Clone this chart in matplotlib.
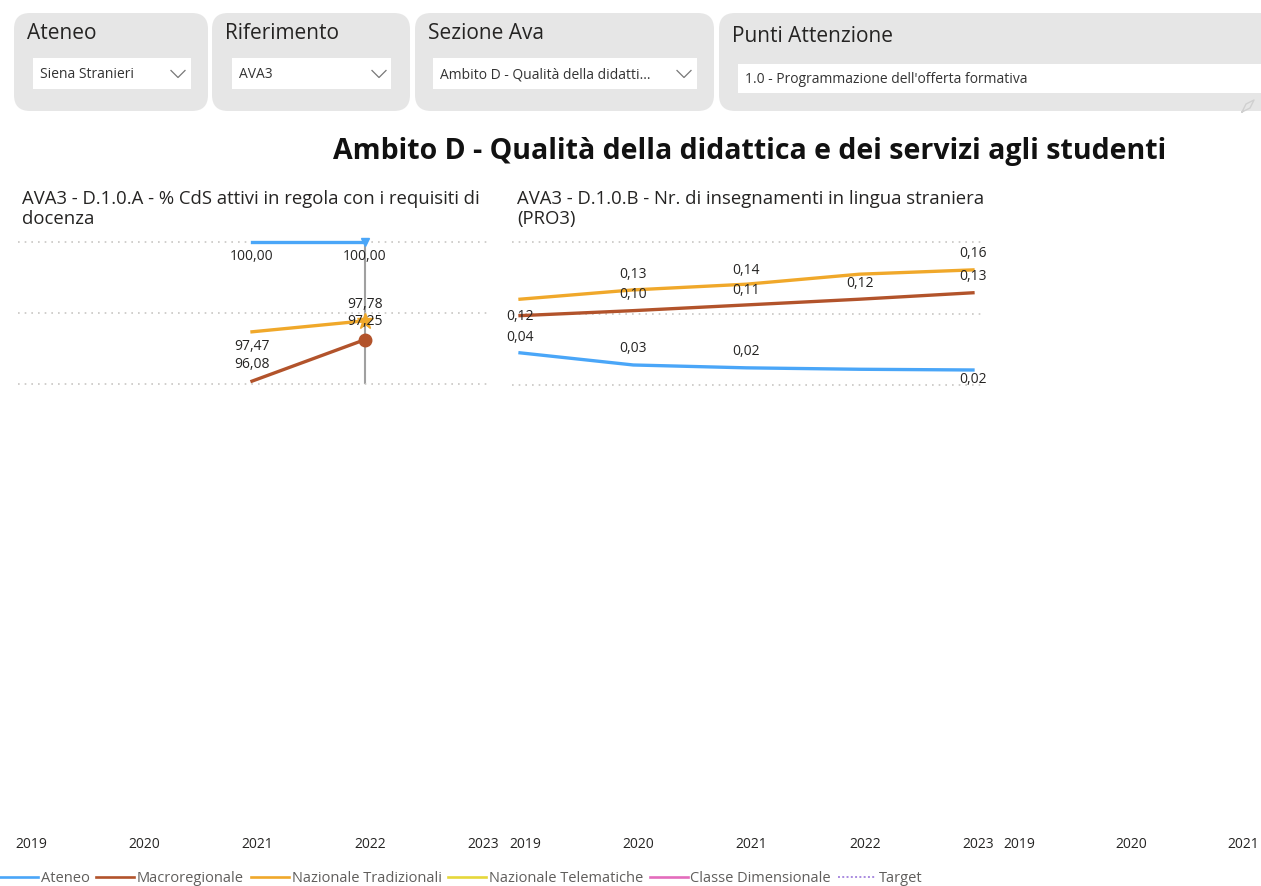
import matplotlib
matplotlib.use("Agg")
import matplotlib.pyplot as plt
from matplotlib.patches import FancyBboxPatch, Rectangle
from matplotlib.lines import Line2D
from matplotlib.transforms import ScaledTranslation

# ---------------- data ----------------
years = [2019, 2020, 2021, 2022, 2023]
c3_visible_years = [2019, 2020, 2021]
series_names = ["Ateneo", "Macroregionale", "Nazionale Tradizionali",
                "Nazionale Telematiche", "Classe Dimensionale", "Target"]
series_colors = ["#4AA6F8", "#B2532B", "#F0A82A", "#E6D83A", "#E46CBC", "#A98AE0"]

# Chart 1: % CdS attivi in regola con i requisiti di docenza (only 2021-2022)
c1_years = [2021, 2022]
c1_ateneo = [100.00, 100.00]
c1_macro = [96.08, 97.25]
c1_naztrad = [97.47, 97.78]

# Chart 2: Nr. di insegnamenti in lingua straniera (PRO3)
c2_ateneo = [0.045, 0.028, 0.024, 0.022, 0.021]
c2_macro = [0.097, 0.104, 0.112, 0.120, 0.129]
c2_naztrad = [0.120, 0.133, 0.141, 0.155, 0.161]

slicer_titles = ["Ateneo", "Riferimento", "Sezione Ava", "Punti Attenzione"]
slicer_values = ["Siena Stranieri", "AVA3", "Ambito D - Qualità della didatti...",
                 "1.0 - Programmazione dell'offerta formativa"]
main_title = "Ambito D - Qualità della didattica e dei servizi agli studenti"
c1_title = "AVA3 - D.1.0.A - % CdS attivi in regola con i requisiti di\ndocenza"
c2_title = "AVA3 - D.1.0.B - Nr. di insegnamenti in lingua straniera\n(PRO3)"

# ---------------- style / layout ----------------
W, H = 1261, 886
FONT = "Open Sans"
TXT = "#252423"
plt.rcParams["font.family"] = [FONT, "DejaVu Sans"]

fig = plt.figure(figsize=(W / 100, H / 100), dpi=100)
fig.patch.set_facecolor("white")

# overlay for slicers / titles
ov = fig.add_axes([0, 0, 1, 1])
ov.set_xlim(0, W)
ov.set_ylim(H, 0)
ov.axis("off")

boxes = [(14, 208), (212, 410), (415, 714), (719, 1300)]
drops = [(33, 191, 58, 89), (232, 391, 58, 89), (433, 697, 58, 89), (738, 1275, 64, 93)]
title_pos = [(27, 33), (225, 33), (428, 33), (732, 36)]
chev = [178, 379, 684, None]
for i, (x0, x1) in enumerate(boxes):
    ov.add_patch(FancyBboxPatch((x0, 13), x1 - x0, 98,
                                boxstyle="round,pad=0,rounding_size=16",
                                fc="#E6E6E6", ec="none"))
    dx0, dx1, dy0, dy1 = drops[i]
    ov.add_patch(Rectangle((dx0, dy0), dx1 - dx0, dy1 - dy0, fc="white", ec="none"))
    tx, ty = title_pos[i]
    ov.text(tx, ty, slicer_titles[i], fontsize=15, color=TXT, va="center", ha="left")
    ov.text(dx0 + 7, (dy0 + dy1) / 2 + 1, slicer_values[i], fontsize=10, color="#333333",
            va="center", ha="left")
    if chev[i] is not None:
        cx = chev[i]
        cy = (dy0 + dy1) / 2
        ov.plot([cx - 7, cx, cx + 7], [cy - 3, cy + 4, cy - 3], color="#777777", lw=0.9)

# pin icon hint
ov.plot([1242, 1246, 1254, 1250, 1242], [112, 104, 100, 108, 112], color="#D0D0D0", lw=1)

ov.text(750, 151, main_title, fontsize=20.5, fontweight="bold", color="#111111",
        ha="center", va="center")
ov.text(22, 209, c1_title, fontsize=13.3, color=TXT, ha="left", va="center",
        linespacing=1.2)
ov.text(517, 209, c2_title, fontsize=13.3, color=TXT, ha="left", va="center",
        linespacing=1.2)


def add_px_axes(x0, y0, x1, y1):
    return fig.add_axes([x0 / W, 1 - y1 / H, (x1 - x0) / W, (y1 - y0) / H])


AX_TOP, AX_BOT = 236, 833
GRID = "#C8C6C4"


def style_axes(ax, gridvals, ylim, ticks, show_grid=True):
    ax.set_facecolor("none")
    for s in ax.spines.values():
        s.set_visible(False)
    ax.set_xlim(2019 - 8 / 113, 2023 + 12 / 113)
    ax.set_ylim(*ylim)
    ax.set_xticks(ticks)
    ax.set_xticklabels([str(y) for y in ticks], fontsize=10, color=TXT)
    ax.tick_params(axis="x", length=0, pad=3)
    ax.set_yticks(gridvals)
    ax.set_yticklabels([])
    ax.tick_params(axis="y", length=0)
    if show_grid:
        ax.grid(axis="y", color=GRID, linestyle=(0, (1, 3)), linewidth=1.2)
    for lab in ax.get_xticklabels():
        lab.set_transform(lab.get_transform() + ScaledTranslation(5 / 100, 0, fig.dpi_scale_trans))


LBL = 10

# ---- chart 1 ----
ppu1 = 35.5
ax1 = add_px_axes(18, AX_TOP, 490, AX_BOT)
style_axes(ax1, [96, 98, 100], (100 - (AX_BOT - 242) / ppu1, 100 + (242 - AX_TOP) / ppu1), years)
ax1.vlines(2022, 96, 100, color="#A0A0A0", lw=1.5, zorder=1)
lw = 2.4
ax1.plot(c1_years, c1_ateneo, color=series_colors[0], lw=lw, zorder=3)
ax1.plot(c1_years, c1_naztrad, color=series_colors[2], lw=lw, zorder=3)
ax1.plot(c1_years, c1_macro, color=series_colors[1], lw=lw, zorder=3)
ax1.plot([c1_years[1]], [c1_ateneo[1]], marker="v", ms=6, color=series_colors[0], zorder=4)
ax1.plot([c1_years[1]], [c1_naztrad[1]], marker="*", ms=12, color=series_colors[2], zorder=4)
ax1.plot([c1_years[1]], [c1_macro[1]], marker="o", ms=9, color=series_colors[1], zorder=4)


def lab(ax, x, y, dy):
    ax.annotate("{:.2f}".format(y).replace(".", ","), (x, y), xytext=(0, dy * 0.72),
                textcoords="offset points", ha="center", va="center",
                fontsize=LBL, color=TXT, zorder=5)


c1_ateneo_dy = [-15, -15]
c1_naztrad_dy = [-15, 16]
c1_macro_dy = [17, 18]
for i, x in enumerate(c1_years):
    lab(ax1, x, c1_ateneo[i], c1_ateneo_dy[i])
    lab(ax1, x, c1_naztrad[i], c1_naztrad_dy[i])
    lab(ax1, x, c1_macro[i], c1_macro_dy[i])

# ---- chart 2 ----
ppu2 = 715
ax2 = add_px_axes(512, AX_TOP, 985, AX_BOT)
style_axes(ax2, [0, 0.1, 0.2], (0 - (AX_BOT - 385) / ppu2, 0.2 + (242 - AX_TOP) / ppu2), years)
ax2.plot(years, c2_ateneo, color=series_colors[0], lw=lw, zorder=3)
ax2.plot(years, c2_naztrad, color=series_colors[2], lw=lw, zorder=3)
ax2.plot(years, c2_macro, color=series_colors[1], lw=lw, zorder=3)

# label offsets in px (None = label hidden)
c2_ateneo_dy = [15, 16, 16, None, -10]
c2_naztrad_dy = [-17, 15, 14, None, 16]
c2_macro_dy = [None, 16, 14, 16, 16]
for i, x in enumerate(years):
    for vals, dys in ((c2_ateneo, c2_ateneo_dy), (c2_naztrad, c2_naztrad_dy),
                      (c2_macro, c2_macro_dy)):
        if dys[i] is not None:
            lab(ax2, x, vals[i], dys[i])

# ---- chart 3 (empty, cut off at the right edge) ----
ax3 = add_px_axes(1006, AX_TOP, 1475, AX_BOT)
style_axes(ax3, [], (0, 1), c3_visible_years, show_grid=False)

# ---- legend ----
handles = []
for name, col in zip(series_names, series_colors):
    dotted = name == "Target"
    handles.append(Line2D([], [], color=col, lw=1.4 if dotted else 1.9,
                          linestyle=(0, (1, 1.2)) if dotted else "-", label=name))
leg = fig.legend(handles=handles, loc="center left", bbox_to_anchor=(0, 1 - 879 / H),
                 ncol=6, frameon=False, fontsize=10.5, handlelength=2.6, handletextpad=0.2,
                 columnspacing=0.45, borderpad=0, borderaxespad=0)
for t in leg.get_texts():
    t.set_color("#605E5C")

fig.savefig("out.png", dpi=100)
